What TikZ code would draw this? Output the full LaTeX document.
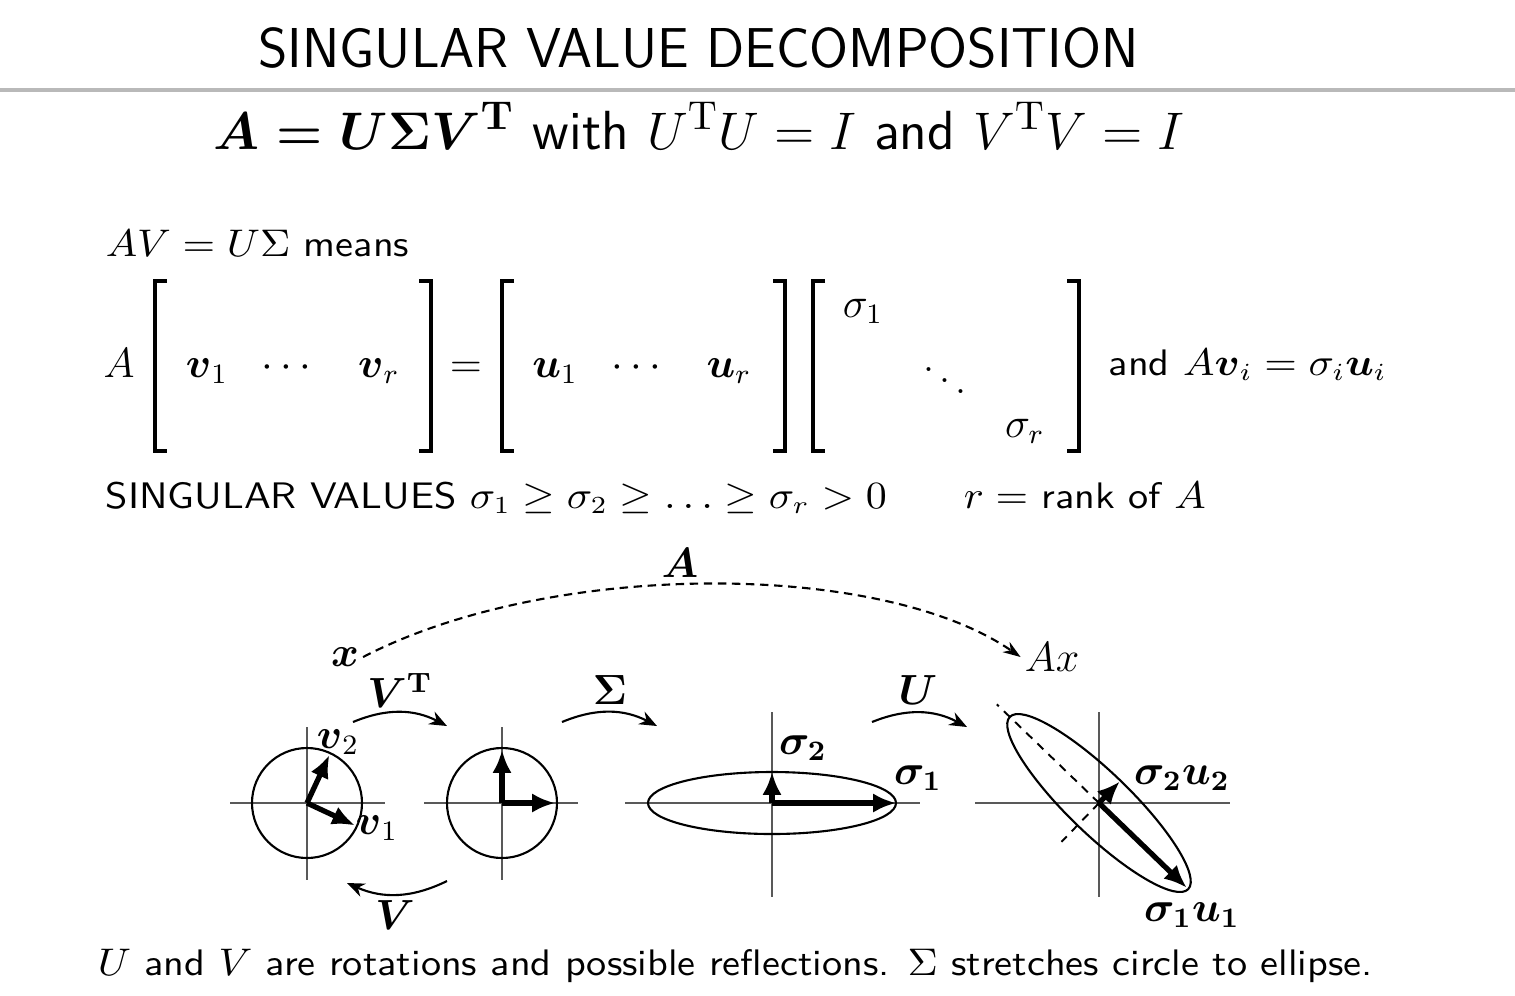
\documentclass[tikz,border=0pt]{standalone}
\usepackage{amsmath,amssymb}
\usetikzlibrary{arrows.meta}

\begin{document}
\begin{tikzpicture}[
    heading/.style={font=\sffamily\fontsize{16}{19}\selectfont, inner sep=0pt, anchor=base},
    txt/.style={font=\sffamily\fontsize{10.5}{12.6}\selectfont, inner sep=0pt, xscale=1.09, anchor=base west},
    entry/.style={font=\fontsize{11.5}{14}\selectfont, inner sep=0pt, anchor=base},
    lbl/.style={font=\fontsize{11.5}{14}\selectfont, inner sep=1pt},
    bracket/.style={line width=0.9pt},
    axis/.style={draw=black!65, line width=0.55pt},
    curve/.style={line width=0.6pt},
    vec/.style={line width=1.5pt, -{Latex[length=6.5pt,width=5.5pt]}},
    turn/.style={line width=0.6pt, -{Stealth[length=5pt,width=4pt]}},
    mapA/.style={line width=0.6pt, dash pattern=on 2.4pt off 1.6pt, -{Stealth[length=5pt,width=3.5pt]}}]
  \useasboundingbox (0,0) rectangle (15.15,-9.95);

  % Heading and rule.
  \node[heading] (title) at (6.985,-0.67) {SINGULAR VALUE DECOMPOSITION};
  \draw[gray!55, line width=1.2pt] (0,-0.9) -- (15.15,-0.9);
  \node[font=\sffamily\fontsize{15}{18}\selectfont, inner sep=0pt, scale=1.045, anchor=base] (svd) at (6.99,-1.49)
    {$\boldsymbol{A = U\Sigma V^{\mathrm{T}}}$ with $U^{\mathrm{T}}U = I$ and $V^{\mathrm{T}}V = I$};

  % AV = U Sigma, column by column.
  \node[txt] (means) at (1.05,-2.56) {$AV = U\Sigma$ means};
  \node[entry] (lhsA) at (1.19,-3.77) {$A$};
  \foreach \bx/\s in {1.55/1, 4.31/-1, 5.02/1, 7.85/-1, 8.13/1, 10.79/-1}
    \draw[bracket] ({\bx+0.12*\s},-2.81) -- (\bx,-2.81) -- (\bx,-4.51) -- ({\bx+0.12*\s},-4.51);
  \node[entry] (v1) at (2.07,-3.77) {$\boldsymbol{v}_1$};
  \node[entry] (vdots) at (2.90,-3.77) {$\cdots$};
  \node[entry] (vr) at (3.79,-3.77) {$\boldsymbol{v}_r$};
  \node[entry] (eq) at (4.66,-3.77) {$=$};
  \node[entry] (u1) at (5.55,-3.77) {$\boldsymbol{u}_1$};
  \node[entry] (udots) at (6.40,-3.77) {$\cdots$};
  \node[entry] (ur) at (7.29,-3.77) {$\boldsymbol{u}_r$};
  \node[entry] (s1) at (8.63,-3.17) {$\sigma_1$};
  \node[entry, anchor=center] (sdots) at (9.45,-3.70) {$\ddots$};
  \node[entry] (sr) at (10.25,-4.37) {$\sigma_r$};
  \node[txt] (avi) at (11.08,-3.75) {and $A\boldsymbol{v}_i = \sigma_i\boldsymbol{u}_i$};

  \node[txt] (svals) at (1.05,-5.08) {SINGULAR VALUES $\sigma_1 \geq \sigma_2 \geq \ldots \geq \sigma_r > 0$};
  \node[txt] (rank) at (9.63,-5.08) {$r =$ rank of $A$};

  % Four pictures on one axis line.
  \coordinate (o1) at (3.07,-8.03);
  \coordinate (o2) at (5.02,-8.03);
  \coordinate (o3) at (7.72,-8.03);
  \coordinate (o4) at (10.99,-8.03);
  \foreach \cx/\xl/\xr/\ya/\yb in {3.07/2.30/3.85/7.27/8.80, 5.02/4.24/5.78/7.27/8.80,
                                   7.72/6.25/9.20/7.12/8.97, 10.99/9.75/12.30/7.12/8.97}{
    \draw[axis] (\xl,-8.03) -- (\xr,-8.03);
    \draw[axis] (\cx,-\ya) -- (\cx,-\yb);
  }

  \draw[curve] (o1) circle (0.55);
  \draw[vec] (o1) -- ++(-25:0.53);
  \draw[vec] (o1) -- ++(65:0.53);
  \node[lbl] (lv2) at (3.38,-7.42) {$\boldsymbol{v}_2$};
  \node[lbl] (lv1) at (3.77,-8.28) {$\boldsymbol{v}_1$};

  \draw[curve] (o2) circle (0.55);
  \draw[vec] (o2) -- ++(0:0.53);
  \draw[vec] (o2) -- ++(90:0.53);

  \draw[curve] (o3) ellipse (1.24 and 0.31);
  \draw[vec] (o3) -- ++(0:1.24);
  \draw[vec] (o3) -- ++(90:0.31);
  \node[lbl] (ls2) at (8.03,-7.48) {$\boldsymbol{\sigma_2}$};
  \node[lbl] (ls1) at (9.18,-7.78) {$\boldsymbol{\sigma_1}$};

  \draw[curve, rotate around={-44:(o4)}] (o4) ellipse (1.24 and 0.31);
  \draw[axis, draw=black, dash pattern=on 2.4pt off 2pt] (o4) -- ++(136:1.42);
  \draw[axis, draw=black, dash pattern=on 2.4pt off 2pt] (o4) -- ++(226:0.54);
  \draw[vec] (o4) -- ++(-44:1.22);
  \draw[vec] (o4) -- ++(46:0.30);
  \node[lbl] (lu2) at (11.82,-7.78) {$\boldsymbol{\sigma_2 u_2}$};
  \node[lbl] (lu1) at (11.92,-9.15) {$\boldsymbol{\sigma_1 u_1}$};

  % Turning arrows between the pictures.
  \coordinate (vt1) at (3.53,-7.22);
  \coordinate (vt2) at (4.47,-7.26);
  \coordinate (sg1) at (5.62,-7.22);
  \coordinate (sg2) at (6.57,-7.26);
  \coordinate (uu1) at (8.72,-7.22);
  \coordinate (uu2) at (9.67,-7.27);
  \coordinate (vv1) at (4.47,-8.81);
  \coordinate (vv2) at (3.47,-8.83);
  \draw[turn] (vt1) to[bend left=25] (vt2);
  \draw[turn] (sg1) to[bend left=25] (sg2);
  \draw[turn] (uu1) to[bend left=25] (uu2);
  \draw[turn] (vv1) to[bend left=25] (vv2);
  \node[lbl] (lvt) at (4.00,-6.90) {$\boldsymbol{V^{\mathrm{T}}}$};
  \node[lbl] (lsg) at (6.10,-6.90) {$\boldsymbol{\Sigma}$};
  \node[lbl] (lu) at (9.18,-6.90) {$\boldsymbol{U}$};
  \node[lbl] (lv) at (3.95,-9.15) {$\boldsymbol{V}$};

  % x goes straight to Ax.
  \node[lbl] (x) at (3.45,-6.57) {$\boldsymbol{x}$};
  \node[lbl] (Ax) at (10.52,-6.57) {$Ax$};
  \draw[mapA] (x.east) .. controls (5.5,-5.6) and (8.8,-5.6) .. (Ax.west);
  \node[lbl] (lA) at (6.80,-5.63) {$\boldsymbol{A}$};

  \node[txt] (note) at (0.97,-9.75)
    {$U$ and $V$ are rotations and possible reflections. $\Sigma$ stretches circle to ellipse.};
\end{tikzpicture}
\end{document}
